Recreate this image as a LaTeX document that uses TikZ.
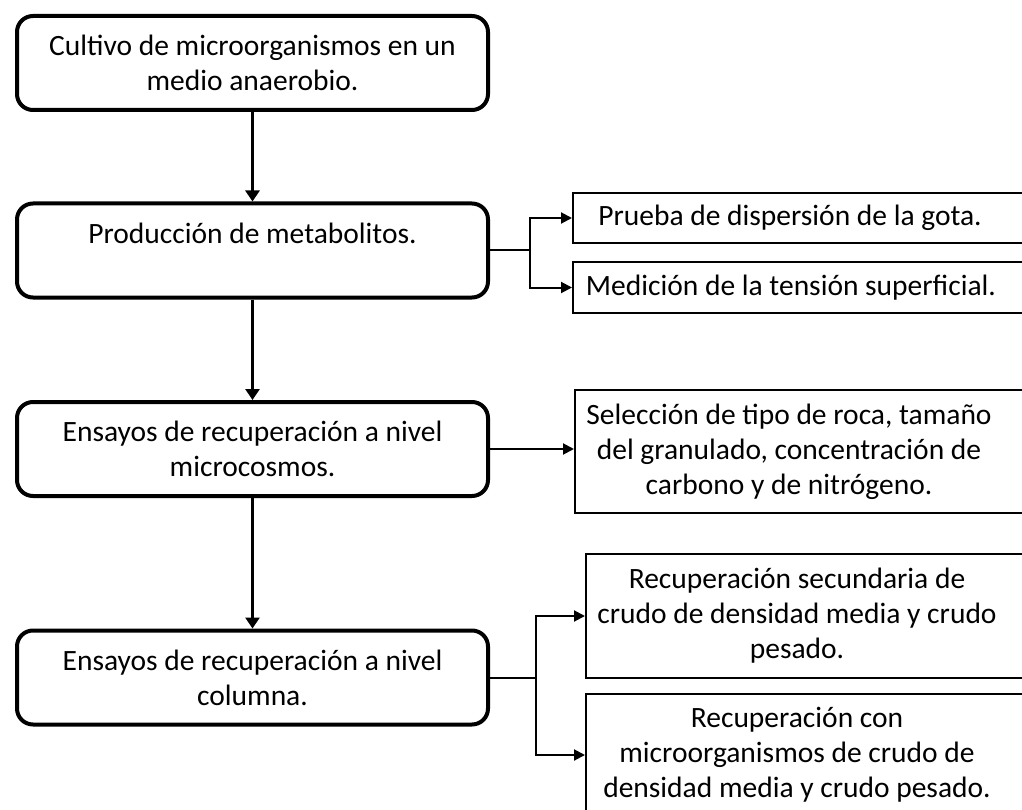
\documentclass[tikz,border=0pt]{standalone}
\usepackage{fontspec}
\setmainfont{Carlito}
\usetikzlibrary{arrows.meta}
\tikzset{
  etapa/.style={draw, line width=4pt, rounded corners=16pt, minimum width=471pt,
    minimum height=94pt, align=center, inner sep=0pt,
    font=\fontsize{29.5pt}{35pt}\selectfont},
  prueba/.style={draw, line width=2pt, anchor=north west, minimum width=480pt, inner sep=0pt},
  rotulo/.style={align=center, inner sep=0pt, font=\fontsize{29.5pt}{35pt}\selectfont},
  flecha/.style={line width=3.5pt, -{Triangle[length=11pt,width=14pt]}},
  rama/.style={line width=2pt},
  ramaflecha/.style={line width=2pt, -{Triangle[length=11pt,width=11pt]}}
}
\begin{document}
\begin{tikzpicture}[x=1pt,y=-1pt]
\useasboundingbox (0,0) rectangle (1022,810);
\clip (0,0) rectangle (1022,810);
% columna de la izquierda
\node[etapa] (cultivo) at (252.5,63) {Cultivo de microorganismos en un\\ medio anaerobio.};
\node[etapa] (produccion) at (252.5,250.5) {Producción de metabolitos.\\ \mbox{}};
\node[etapa] (microcosmos) at (252.5,449) {Ensayos de recuperación a nivel\\ microcosmos.};
\node[etapa] (columna) at (252.5,677.5) {Ensayos de recuperación a nivel\\ columna.};
% cajas de la derecha
\node[prueba, minimum height=50pt, label={[rotulo, xshift=-23pt]center:Prueba de dispersión de la gota.}] (gota) at (572,192) {};
\node[prueba, minimum height=51pt, label={[rotulo, xshift=-22pt]center:Medición de la tensión superficial.}] (tension) at (572,261) {};
\node[prueba, minimum height=123pt, label={[rotulo, xshift=-26pt]center:Selección de tipo de roca, tamaño\\ del granulado, concentración de\\ carbono y de nitrógeno.}] (roca) at (574,389) {};
\node[prueba, minimum height=124pt, label={[rotulo, xshift=-29pt]center:Recuperación secundaria de\\ crudo de densidad media y crudo\\ pesado.}] (secundaria) at (585,553) {};
\node[prueba, minimum height=122pt, label={[rotulo, xshift=-29pt]center:Recuperación con\\ microorganismos de crudo de\\ densidad media y crudo pesado.}] (microorg) at (585,693) {};
% flechas verticales
\draw[flecha] (cultivo) -- (produccion);
\draw[flecha] (produccion) -- (microcosmos);
\draw[flecha] (microcosmos) -- (columna);
% ramas
\coordinate (j1) at (530,250.5);
\coordinate (j2) at (536,677.5);
\draw[rama] (produccion.east) -- (j1);
\draw[ramaflecha] (j1) |- (gota.west);
\draw[ramaflecha] (j1) |- (tension.west);
\draw[ramaflecha] (microcosmos.east) -- (microcosmos.east -| roca.west);
\draw[rama] (columna.east) -- (j2);
\draw[ramaflecha] (j2) |- (secundaria.west);
\draw[ramaflecha] (j2) |- (microorg.west);
\end{tikzpicture}
\end{document}
